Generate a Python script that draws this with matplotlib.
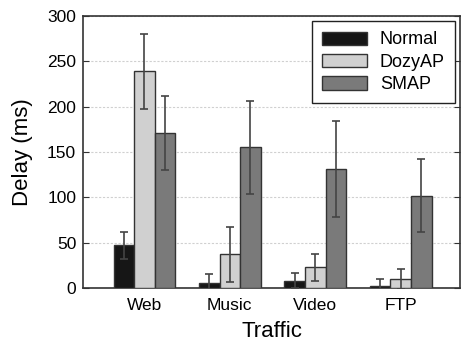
import numpy as np
import matplotlib.pyplot as plt

plt.rcParams['font.family'] = ['Liberation Sans', 'DejaVu Sans']

# delay per traffic type, mean and error
traffic = ["Web", "Music", "Video", "FTP"]
schemes = ["Normal", "DozyAP", "SMAP"]
normal = [47, 5, 8, 2]
normal_err = [15, 10, 8, 8]
dozyap = [239, 37, 23, 10]
dozyap_err = [41, 30, 15, 11]
smap = [171, 155, 131, 102]
smap_err = [41, 51, 53, 40]

colors = ["#161616", "#d0d0d0", "#7a7a7a"]

fig = plt.figure(figsize=(4.62, 3.42), dpi=100)
ax = fig.add_axes([0.18, 0.158, 0.816, 0.795])

x = np.arange(len(traffic))
w = 0.24
series = [(normal, normal_err), (dozyap, dozyap_err), (smap, smap_err)]
for i, (vals, errs) in enumerate(series):
    ax.bar(x + (i - 1) * w, vals, w, yerr=errs, color=colors[i],
           edgecolor="#333333", linewidth=1.0, label=schemes[i], zorder=3,
           error_kw=dict(ecolor="#444444", elinewidth=1.2, capsize=3, capthick=1.2, zorder=4))

ax.set_xlim(-0.715, 3.695)
ax.set_ylim(0, 300)
ax.set_yticks(range(0, 301, 50))
ax.set_xticks(x)
ax.set_xticklabels(traffic)
ax.tick_params(axis='y', direction='in', right=True, length=4, labelsize=12.5, color="#333333", pad=5)
ax.tick_params(axis='x', length=0, labelsize=12.5, pad=7)
ax.yaxis.grid(True, linestyle=(0, (2, 1.5)), color="#d0d0d0", linewidth=0.8, zorder=0)
for s in ax.spines.values():
    s.set_color("#333333")
    s.set_linewidth(1.2)

ax.set_xlabel("Traffic", fontsize=16, labelpad=6)
ax.set_ylabel("Delay (ms)", fontsize=16, labelpad=10)

leg = ax.legend(loc="upper right", fontsize=13, handlelength=2.5, handleheight=0.75,
                labelspacing=0.3, fancybox=False, framealpha=1, borderaxespad=0.3,
                handletextpad=0.7, borderpad=0.55)
leg.get_frame().set_edgecolor("#222222")
leg.get_frame().set_linewidth(1.0)

fig.savefig("out.png", dpi=100)
